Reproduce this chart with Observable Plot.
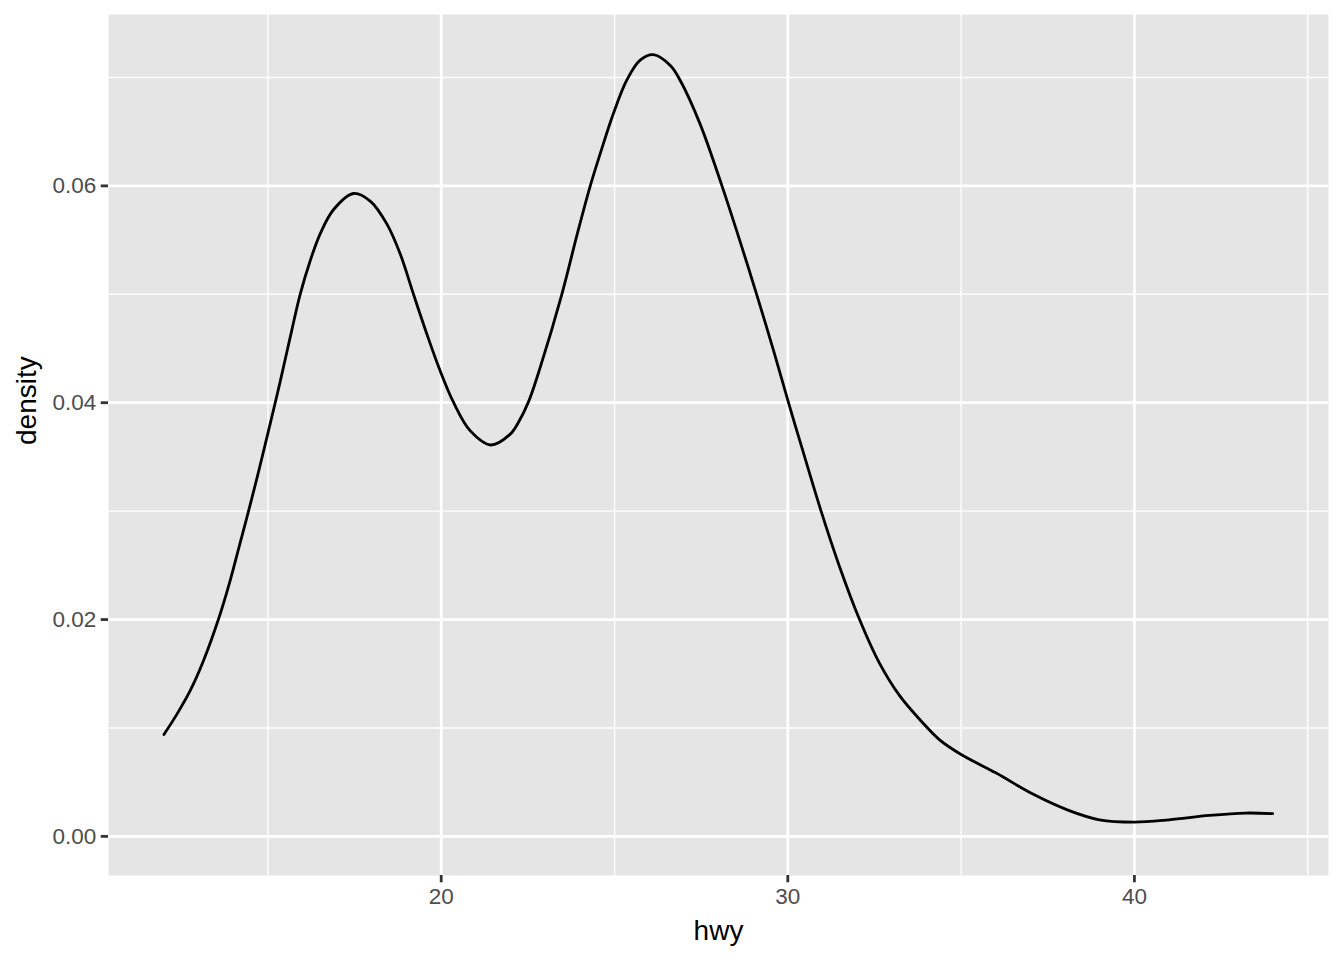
<!DOCTYPE html>
<html>
<head>
<meta charset="utf-8">
<script src="https://cdn.jsdelivr.net/npm/d3@7"></script>
<script src="https://cdn.jsdelivr.net/npm/@observablehq/plot@0.6"></script>
<style>
  html, body { margin: 0; padding: 0; background: white; }
  #chart svg { display: block; }
</style>
</head>
<body>
<div id="chart"></div>
<script>
// Density curve of hwy
const hwy = [12.0, 12.38, 12.76, 13.14, 13.57, 13.91, 14.2, 14.44, 14.68, 14.97, 15.21, 15.35, 15.64, 15.93, 16.22, 16.51, 16.89, 17.47, 17.95, 18.43, 18.82, 19.2, 19.59, 19.95, 20.36, 20.84, 21.43, 21.99, 22.23, 22.52, 22.86, 23.48, 23.92, 24.3, 24.59, 24.97, 25.36, 25.74, 26.12, 26.61, 26.9, 27.47, 28.1, 28.62, 29.1, 29.58, 30.02, 30.43, 30.96, 31.49, 32.07, 32.64, 33.22, 33.8, 34.38, 35.0, 36.0, 37.07, 38.1, 38.99, 40.0, 41.0, 42.16, 43.2, 43.99];
const density = [0.0094, 0.0113, 0.01346, 0.0162, 0.02, 0.0236, 0.0271, 0.03, 0.033, 0.0368, 0.04, 0.0419, 0.046, 0.05, 0.0531, 0.0556, 0.0578, 0.0593, 0.0586, 0.0565, 0.0537, 0.05, 0.0463, 0.0431, 0.04, 0.0374, 0.0361, 0.0371, 0.0382, 0.0401, 0.0433, 0.05, 0.0555, 0.06, 0.063, 0.0667, 0.0698, 0.0716, 0.0721, 0.0711, 0.0697, 0.0657, 0.06, 0.0549, 0.05, 0.0449, 0.04, 0.0356, 0.03, 0.0249, 0.02, 0.016, 0.013, 0.0108, 0.0089, 0.00755, 0.00586, 0.0039, 0.0024, 0.00153, 0.00132, 0.00153, 0.00193, 0.00215, 0.00209];

const xMajor = [20, 30, 40];
const xMinor = [15, 25, 35, 45];
const yMajor = [0, 0.02, 0.04, 0.06];
const yMinor = [0.01, 0.03, 0.05, 0.07];

const data = hwy.map((x, i) => ({hwy: x, density: density[i]}));

const chart = Plot.plot({
  width: 1344,
  height: 960,
  marginLeft: 108,
  marginRight: 16,
  marginTop: 14,
  marginBottom: 85,
  style: {fontFamily: "'Liberation Sans', Arial, Helvetica, sans-serif", background: "white"},
  x: {domain: [10.4, 45.6]},
  y: {domain: [-0.00361, 0.07581]},
  marks: [
    Plot.frame({fill: "#E5E5E5", stroke: null}),
    Plot.gridX(xMinor, {stroke: "white", strokeOpacity: 1, strokeWidth: 1.4}),
    Plot.gridY(yMinor, {stroke: "white", strokeOpacity: 1, strokeWidth: 1.4}),
    Plot.gridX(xMajor, {stroke: "white", strokeOpacity: 1, strokeWidth: 2.8}),
    Plot.gridY(yMajor, {stroke: "white", strokeOpacity: 1, strokeWidth: 2.8}),
    Plot.line(data, {x: "hwy", y: "density", stroke: "black", strokeWidth: 2.8, curve: "catmull-rom"}),
    Plot.axisX(xMajor, {tickSize: 7.3, tickPadding: 5, stroke: "#333333", strokeWidth: 2.8, fill: "#4D4D4D", fontSize: 22.5, label: null}),
    Plot.axisY(yMajor, {tickSize: 7.3, tickPadding: 5, stroke: "#333333", strokeWidth: 2.8, fill: "#4D4D4D", fontSize: 22.5, label: null, tickFormat: d => d.toFixed(2)}),
    Plot.text(["hwy"], {frameAnchor: "bottom", dy: 56, fontSize: 28, fill: "black", lineAnchor: "middle"}),
    Plot.text(["density"], {frameAnchor: "left", dx: -81, rotate: -90, fontSize: 28, fill: "black", lineAnchor: "middle"})
  ]
});
document.getElementById("chart").appendChild(chart);
</script>
</body>
</html>
